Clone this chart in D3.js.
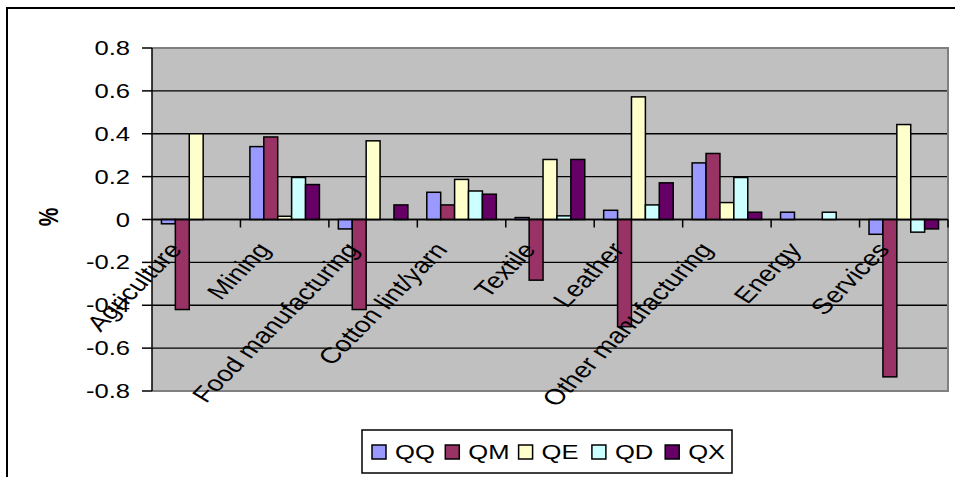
<!DOCTYPE html>
<html>
<head>
<meta charset="utf-8">
<script src="https://cdn.jsdelivr.net/npm/d3@7"></script>
<style>
  html, body { margin: 0; padding: 0; background: #fff; }
  svg { display: block; }
  text { font-family: "Liberation Sans", Arial, sans-serif; fill: #000; }
</style>
</head>
<body>
<script>
// Sector categories along the x axis
const categories = ["Agriculture", "Mining", "Food manufacturing", "Cotton lint/yarn",
  "Textile", "Leather", "Other manufacturing", "Energy", "Services"];

// Series (percentage change per sector)
const seriesNames = ["QQ", "QM", "QE", "QD", "QX"];
const QQ = [-0.02, 0.34, -0.044, 0.127, 0.009, 0.043, 0.264, 0.034, -0.069];
const QM = [-0.42, 0.385, -0.42, 0.068, -0.283, -0.50, 0.308, 0, -0.734];
const QE = [0.40, 0.015, 0.367, 0.187, 0.28, 0.572, 0.079, 0, 0.443];
const QD = [0, 0.196, 0, 0.133, 0.017, 0.068, 0.196, 0.034, -0.059];
const QX = [0, 0.163, 0.068, 0.118, 0.28, 0.171, 0.034, 0, -0.044];
const seriesValues = [QQ, QM, QE, QD, QX];
const seriesColors = ["#9999FF", "#993366", "#FFFFCC", "#CCFFFF", "#660066"];

// Y axis ticks
const yTicks = [-0.8, -0.6, -0.4, -0.2, 0, 0.2, 0.4, 0.6, 0.8];
const yTickLabels = ["-0.8", "-0.6", "-0.4", "-0.2", "0", "0.2", "0.4", "0.6", "0.8"];

const W = 955, H = 477;
const plot = { left: 152, top: 48, right: 948, bottom: 391 };
const SX = 1.28;        // horizontal stretch of the chart's lettering
const FS = 20;

const svg = d3.select("body").append("svg")
  .attr("width", W).attr("height", H);

svg.append("rect").attr("width", W).attr("height", H).attr("fill", "#fff");

// Chart area frame (left and top edges)
svg.append("path")
  .attr("d", `M7,${H} V8 H${W}`)
  .attr("fill", "none").attr("stroke", "#000").attr("stroke-width", 2);

const x = d3.scaleBand().domain(categories)
  .range([plot.left, plot.right]).paddingInner(0).paddingOuter(0);
const xs = d3.scaleBand().domain(seriesNames)
  .range([0, x.bandwidth()]).paddingInner(0).paddingOuter(0.68);
const y = d3.scaleLinear().domain([-0.8, 0.8]).range([plot.bottom, plot.top]);

// Plot background
svg.append("rect")
  .attr("x", plot.left).attr("y", plot.top)
  .attr("width", plot.right - plot.left).attr("height", plot.bottom - plot.top)
  .attr("fill", "#C0C0C0");

// Gridlines
svg.append("g").selectAll("line")
  .data(yTicks.filter(v => v > -0.8 && v < 0.8))
  .join("line")
  .attr("x1", plot.left).attr("x2", plot.right)
  .attr("y1", d => y(d)).attr("y2", d => y(d))
  .attr("stroke", "#000").attr("stroke-width", 1.3);

// Plot border (gray) on top, right, bottom
svg.append("path")
  .attr("d", `M${plot.left},${plot.top} H${plot.right} V${plot.bottom} H${plot.left}`)
  .attr("fill", "none").attr("stroke", "#808080").attr("stroke-width", 2);

// Bars
const groups = svg.append("g").selectAll("g")
  .data(seriesNames)
  .join("g")
  .attr("fill", (d, i) => seriesColors[i]);

groups.selectAll("rect")
  .data((s, si) => categories.map((c, ci) => ({ c, s, v: seriesValues[si][ci] })))
  .join("rect")
  .attr("x", d => x(d.c) + xs(d.s))
  .attr("width", xs.bandwidth())
  .attr("y", d => y(Math.max(0, d.v)))
  .attr("height", d => Math.abs(y(d.v) - y(0)))
  .attr("stroke", "#000").attr("stroke-width", 1.5);

// Category axis at zero
svg.append("line")
  .attr("x1", plot.left).attr("x2", plot.right)
  .attr("y1", y(0)).attr("y2", y(0))
  .attr("stroke", "#000").attr("stroke-width", 1.5);
svg.append("g").selectAll("line")
  .data(categories)
  .join("line")
  .attr("x1", d => x(d) + x.bandwidth()).attr("x2", d => x(d) + x.bandwidth())
  .attr("y1", y(0)).attr("y2", y(0) + 8)
  .attr("stroke", "#000").attr("stroke-width", 1.5);

// Value axis
svg.append("line")
  .attr("x1", plot.left).attr("x2", plot.left)
  .attr("y1", plot.top).attr("y2", plot.bottom)
  .attr("stroke", "#000").attr("stroke-width", 1.5);
svg.append("g").selectAll("line")
  .data(yTicks)
  .join("line")
  .attr("x1", plot.left - 10).attr("x2", plot.left)
  .attr("y1", d => y(d)).attr("y2", d => y(d))
  .attr("stroke", "#000").attr("stroke-width", 1.5);
svg.append("g").selectAll("text")
  .data(yTicks)
  .join("text")
  .attr("transform", d => `translate(130,${y(d) + 7}) scale(${SX},1)`)
  .attr("text-anchor", "end")
  .attr("font-size", FS)
  .text((d, i) => yTickLabels[i]);

// Axis title
svg.append("text")
  .attr("transform", `translate(58,217) scale(${SX},1) rotate(-90)`)
  .attr("text-anchor", "middle")
  .attr("font-size", 21).attr("font-weight", "bold")
  .text("%");

// Category labels, slanted
svg.append("g").selectAll("text")
  .data(categories)
  .join("text")
  .attr("transform", d => `translate(${x(d) + x.bandwidth() / 2 - 13},250) scale(${SX},1) rotate(-52)`)
  .attr("text-anchor", "end")
  .attr("font-size", 22)
  .text(d => d);

// Legend
const legend = svg.append("g");
legend.append("rect")
  .attr("x", 362).attr("y", 430).attr("width", 370).attr("height", 43)
  .attr("fill", "#fff").attr("stroke", "#000").attr("stroke-width", 1.5);
const items = legend.selectAll("g")
  .data(seriesNames)
  .join("g")
  .attr("transform", (d, i) => `translate(${372 + i * 73.3},0)`);
items.append("rect")
  .attr("x", 0).attr("y", 445).attr("width", 14).attr("height", 14)
  .attr("fill", (d, i) => seriesColors[i])
  .attr("stroke", "#000").attr("stroke-width", 1.5);
items.append("text")
  .attr("transform", `translate(23,459) scale(${SX},1)`)
  .attr("font-size", FS)
  .text(d => d);
</script>
</body>
</html>
